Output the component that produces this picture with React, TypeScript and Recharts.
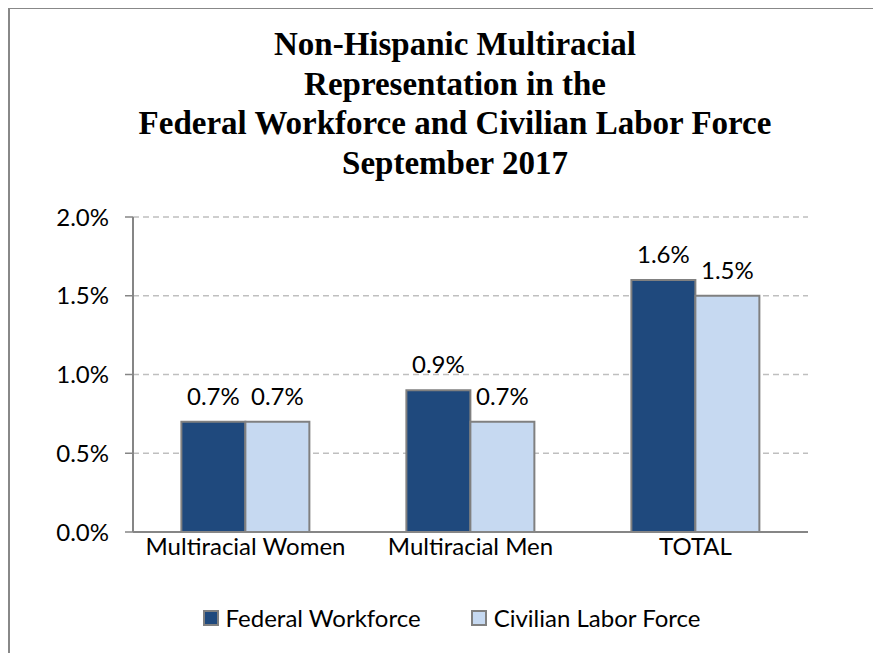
import React from "react";
import {
  BarChart,
  Bar,
  XAxis,
  YAxis,
  CartesianGrid,
  Legend,
  LabelList,
} from "recharts";

const categories = ["Multiracial Women", "Multiracial Men", "TOTAL"];
const federalWorkforce = [0.7, 0.9, 1.6];
const civilianLaborForce = [0.7, 0.7, 1.5];
const yTicks = [0, 0.5, 1.0, 1.5, 2.0];
const seriesNames = ["Federal Workforce", "Civilian Labor Force"];
const seriesColors = ["#1f497d", "#c6d9f1"];
const titleLines = [
  "Non-Hispanic Multiracial",
  "Representation in the",
  "Federal Workforce and Civilian Labor Force",
  "September 2017",
];

const data = categories.map((name, i) => ({
  name,
  federal: federalWorkforce[i],
  civilian: civilianLaborForce[i],
}));

const pct = (v: number) => `${v.toFixed(1)}%`;
const textFont = "Lato, 'Open Sans', sans-serif";

const LegendContent = () => (
  <div
    style={{
      display: "flex",
      justifyContent: "center",
      alignItems: "center",
      fontFamily: textFont,
      fontSize: 24,
      lineHeight: "28px",
      color: "#000",
      paddingLeft: 22,
    }}
  >
    {seriesNames.map((n, i) => (
      <div
        key={n}
        style={{ display: "flex", alignItems: "center", marginRight: i === 0 ? 50 : 0 }}
      >
        <span
          style={{
            display: "inline-block",
            width: 12,
            height: 12,
            background: seriesColors[i],
            border: "2px solid #808080",
            marginRight: 7,
          }}
        />
        <span>{n}</span>
      </div>
    ))}
  </div>
);

export default function App() {
  return (
    <div
      style={{
        position: "relative",
        width: 873,
        height: 646,
        boxSizing: "border-box",
        borderTop: "2px solid #888",
        borderLeft: "2px solid #888",
        marginTop: -1,
        overflow: "hidden",
        background: "#fff",
      }}
    >
      <div
        style={{
          position: "absolute",
          top: 16,
          left: 0,
          width: 890,
          textAlign: "center",
          fontFamily: "'Liberation Serif', serif",
          fontWeight: "bold",
          fontSize: 33,
          lineHeight: "39.5px",
          color: "#000",
        }}
      >
        {titleLines.map((l) => (
          <div key={l}>{l}</div>
        ))}
      </div>
      <div style={{ position: "absolute", top: 0, left: 0 }}>
        <BarChart
          width={871}
          height={644}
          data={data}
          margin={{ top: 208, right: 73, left: 63, bottom: 21 }}
          barCategoryGap="21.5%"
          barGap={0}
        >
          <CartesianGrid
            vertical={false}
            stroke="#bfbfbf"
            strokeDasharray="6 4"
            strokeWidth={1.5}
          />
          <XAxis
            dataKey="name"
            tickLine={false}
            axisLine={{ stroke: "#868686", strokeWidth: 2 }}
            tick={{ fill: "#000", fontSize: 24, fontFamily: textFont }}
            tickMargin={0}
            height={72}
            interval={0}
          />
          <YAxis
            domain={[0, 2]}
            ticks={yTicks}
            tickFormatter={pct}
            width={60}
            axisLine={{ stroke: "#868686", strokeWidth: 2 }}
            tickLine={{ stroke: "#868686", strokeWidth: 1.5 }}
            tickSize={8}
            tickMargin={16}
            tick={{ fill: "#000", fontSize: 24, fontFamily: textFont }}
          />
          <Legend verticalAlign="bottom" align="center" content={LegendContent} />
          <Bar
            dataKey="federal"
            name={seriesNames[0]}
            fill={seriesColors[0]}
            stroke="#808080"
            strokeWidth={2}
            isAnimationActive={false}
          >
            <LabelList
              dataKey="federal"
              position="top"
              offset={17}
              formatter={(v: number) => pct(v)}
              style={{ fill: "#000", fontSize: 24, fontFamily: textFont }}
            />
          </Bar>
          <Bar
            dataKey="civilian"
            name={seriesNames[1]}
            fill={seriesColors[1]}
            stroke="#808080"
            strokeWidth={2}
            isAnimationActive={false}
          >
            <LabelList
              dataKey="civilian"
              position="top"
              offset={17}
              formatter={(v: number) => pct(v)}
              style={{ fill: "#000", fontSize: 24, fontFamily: textFont }}
            />
          </Bar>
        </BarChart>
      </div>
    </div>
  );
}
